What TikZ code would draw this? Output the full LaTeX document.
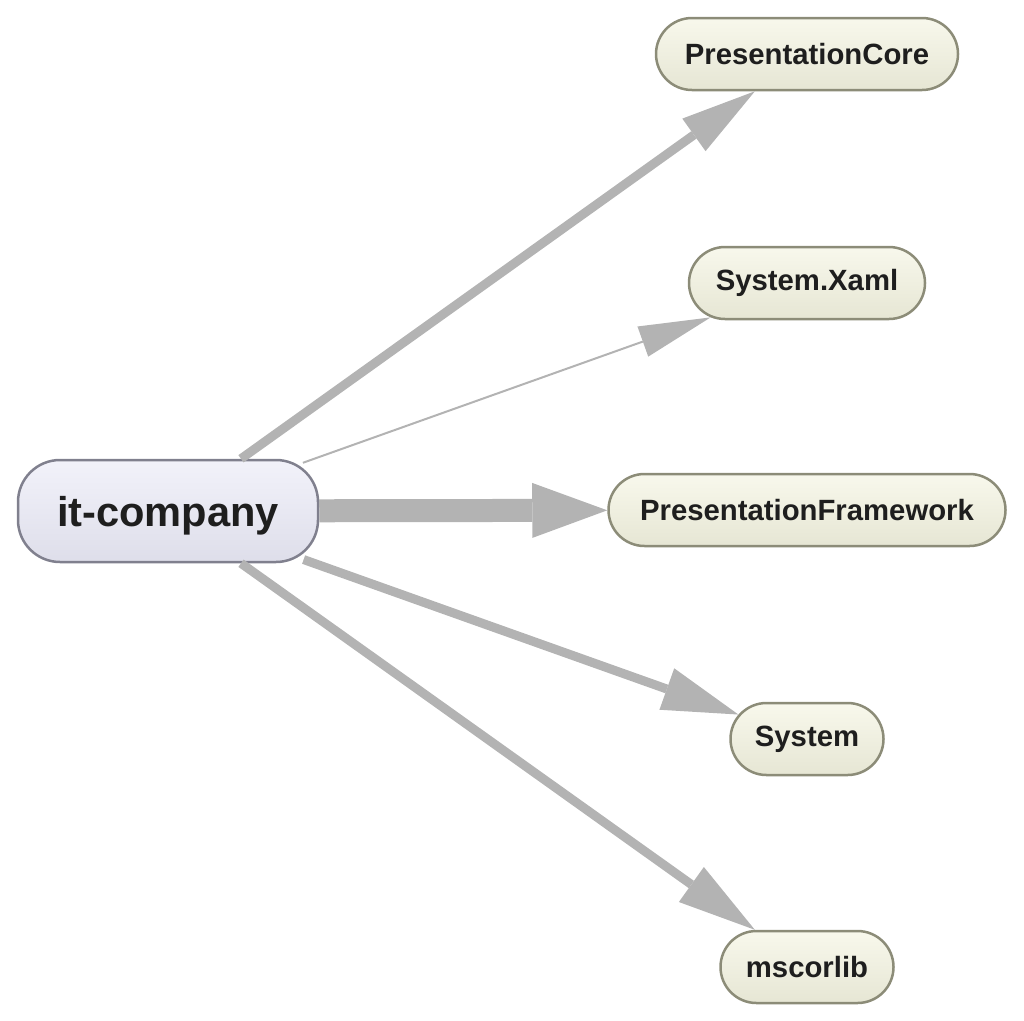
\documentclass[tikz,border=0pt]{standalone}
\usepackage{fontspec}
\setmainfont{Liberation Sans}
\usetikzlibrary{arrows.meta,shapes.misc}
\definecolor{edgegray}{HTML}{B3B3B3}
\definecolor{leaftop}{HTML}{F8F8EC}
\definecolor{leafbot}{HTML}{E6E6D4}
\definecolor{leafline}{HTML}{8C8C78}
\definecolor{roottop}{HTML}{F2F2FA}
\definecolor{rootbot}{HTML}{DEDEEA}
\definecolor{rootline}{HTML}{80808E}
\definecolor{txt}{HTML}{1E1E1E}
\tikzset{
  leaf/.style={rounded rectangle, top color=leaftop, bottom color=leafbot, draw=leafline,
    line width=2.5pt, inner sep=0pt, minimum height=72pt, text=txt,
    font=\fontsize{29.3}{30}\selectfont\bfseries},
  root/.style={rectangle, rounded corners=42pt, top color=roottop, bottom color=rootbot, draw=rootline,
    line width=2.5pt, inner sep=0pt, minimum height=102pt, minimum width=300pt, text=txt,
    text height=40pt, text depth=9pt,
    font=\fontsize{41.6}{42}\selectfont\bfseries},
  dep/.style={draw=edgegray, fill=edgegray},
}
\begin{document}
\begin{tikzpicture}[x=1pt,y=-1pt]
\useasboundingbox (0,0) rectangle (1024,1020);
\node[root] (itc) at (168,511) {it-company};
\node[leaf, minimum width=302pt] (pc) at (807,54) {PresentationCore};
\node[leaf, minimum width=236pt] (xaml) at (807,283) {System.Xaml};
\node[leaf, minimum width=397pt] (pf) at (807,510) {PresentationFramework};
\node[leaf, minimum width=153pt] (sys) at (807,739) {System};
\node[leaf, minimum width=173pt] (msc) at (807,967) {mscorlib};
\draw[dep, line width=9pt, -{Triangle[length=75pt,width=40pt,line width=0pt]}] (itc) -- (pc);
\draw[dep, line width=2pt, shorten <=-12pt, -{Triangle[length=72pt,width=32pt,line width=0pt]}] (itc) -- (xaml);
\draw[dep, line width=23pt, -{Triangle[length=75pt,width=55pt,line width=0pt]}] (itc) -- (pf);
\draw[dep, line width=9pt, shorten <=-11pt, -{Triangle[length=76pt,width=44pt,line width=0pt]}] (itc) -- (sys);
\draw[dep, line width=9pt, -{Triangle[length=78pt,width=43pt,line width=0pt]}] (itc) -- (msc);
\end{tikzpicture}
\end{document}
